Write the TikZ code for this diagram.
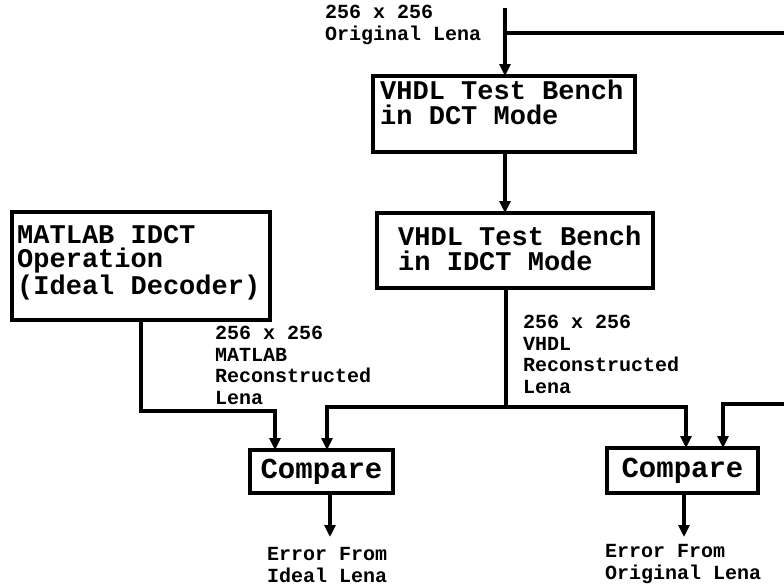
\documentclass[tikz,border=0pt]{standalone}
\usepackage{fontspec}
\newfontfamily\diafont{Liberation Mono}
\usetikzlibrary{arrows.meta}

\tikzset{
  box/.style={draw, line width=4pt, inner sep=0pt, outer sep=0pt},
  boxtext/.style={font=\diafont\bfseries\fontsize{27}{24.5}\selectfont,
                  align=left, inner sep=0pt, anchor=base west},
  lbl/.style={font=\diafont\bfseries\fontsize{20}{21.5}\selectfont,
              align=left, inner sep=0pt, anchor=base west},
  wire/.style={line width=3.5pt},
  arr/.style={line width=3.5pt, -{Triangle[width=11pt,length=12pt]}},
}

\begin{document}
\begin{tikzpicture}[x=1pt, y=-1pt]
\useasboundingbox (0,0) rectangle (784,587);

% processing blocks
\node[box, minimum width=262pt, minimum height=76pt] (dct) at (504,114) {};
\node[box, minimum width=276pt, minimum height=75pt] (idct) at (515,250.5) {};
\node[box, minimum width=258pt, minimum height=108pt] (matlab) at (141,266) {};
\node[box, minimum width=143pt, minimum height=43pt,
      font=\diafont\bfseries\fontsize{29}{24.5}\selectfont] (cmpL) at (321.5,471.5) {Compare};
\node[box, minimum width=151pt, minimum height=45pt,
      font=\diafont\bfseries\fontsize{29}{24.5}\selectfont] (cmpR) at (682.5,470.5) {Compare};

% block captions (anchored at the baseline of their last line)
\node[boxtext] (dcttxt) at (380,124) {VHDL Test Bench\\in DCT Mode};
\node[boxtext] (idcttxt) at (398,270) {VHDL Test Bench\\in IDCT Mode};
\node[boxtext] (matlabtxt) at (17,294) {MATLAB IDCT\\Operation\\(Ideal Decoder)};

% signal labels
\node[lbl] (orig) at (325,40) {256 x 256\\Original Lena};
\node[lbl] (mrec) at (215,404) {256 x 256\\MATLAB\\Reconstructed\\Lena};
\node[lbl] (vrec) at (523,393) {256 x 256\\VHDL\\Reconstructed\\Lena};
\node[lbl] (errL) at (267,582) {Error From\\Ideal Lena};
\node[lbl] (errR) at (605,579) {Error From\\Original Lena};

% junction points and free ends
\coordinate (src) at (505,8);
\coordinate (tap) at (505,33);
\coordinate (tapend) at (784,33);
\coordinate (split) at (506,407);
\coordinate (mjoin) at (141,411);
\coordinate (refin) at (784,404);
\coordinate (outL) at (330,537);
\coordinate (outR) at (684,537);

% connectors
\draw[arr] (src) -- (src |- dct.north);
\draw[wire] (tap) -- (tapend);
\draw[arr] (src |- dct.south) -- (src |- idct.north);
\draw[wire] (split |- idct.south) -- (split);
\draw[arr] (split) -| ([xshift=5.5pt]cmpL.north);
\draw[arr] (split) -| ([xshift=3.5pt]cmpR.north);
\draw[arr] (matlab.south) -- (mjoin) -| ([xshift=-46.5pt]cmpL.north);
\draw[arr] (refin) -| ([xshift=40.5pt]cmpR.north);
\draw[arr] (outL |- cmpL.south) -- (outL);
\draw[arr] (outR |- cmpR.south) -- (outR);
\end{tikzpicture}
\end{document}
